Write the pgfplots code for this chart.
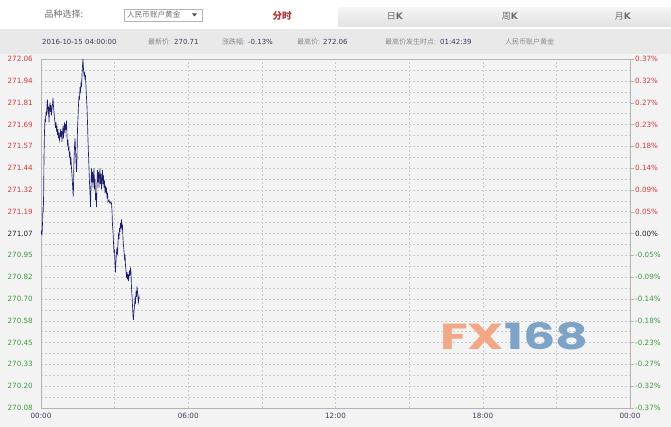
\documentclass[border=0pt]{standalone}
\usepackage{pgfplots}
\pgfplotsset{compat=1.18}
\usepackage{fontspec}
\setmainfont{DejaVu Sans}
\newfontfamily\cjk{Noto Sans CJK SC}
\newfontfamily\wm{Poppins}

\definecolor{bgc}{HTML}{F3F3F3}
\definecolor{barc}{HTML}{E9E9E9}
\definecolor{up}{HTML}{D23A3A}
\definecolor{dn}{HTML}{3C9A3C}
\definecolor{mid}{HTML}{222222}
\definecolor{linec}{HTML}{1E1E6E}
\definecolor{gridc}{HTML}{CACACA}
\definecolor{framec}{HTML}{B4B4B4}
\definecolor{infoc}{HTML}{3A3A5A}
\definecolor{cnc}{HTML}{8A8A8A}
\definecolor{fxo}{HTML}{F2A886}
\definecolor{fxb}{HTML}{7DA4C6}

\begin{document}
\begin{tikzpicture}
\useasboundingbox (0pt,0pt) rectangle (671pt,427pt);
\fill[white] (0pt,0pt) rectangle (671pt,427pt);
\fill[bgc] (0pt,0pt) rectangle (671pt,373pt);
\fill[barc] (0pt,373pt) rectangle (671pt,398pt);
% tabs
\shade[top color=white!96!black, bottom color=white!88!black] (338pt,400pt) rectangle (671pt,419pt);

% header text
\node[text=cnc!80!black, font=\cjk\fontsize{9}{10}\selectfont] at (64pt,413pt) {品种选择:};
\draw[framec, fill=white] (124pt,406pt) rectangle (202pt,418pt);
\node[anchor=west, inner sep=0pt, text=cnc!80!black, font=\cjk\fontsize{7.6}{8}\selectfont] at (127pt,412pt) {人民币账户黄金};
\fill[black!70] (192pt,413.5pt) -- (197pt,413.5pt) -- (194.5pt,410.5pt) -- cycle;
\node[text=up!85!black, font=\cjk\bfseries\fontsize{9.5}{10}\selectfont] at (282pt,411pt) {分时};
\node[text=cnc!80!black, font=\fontsize{9}{10}\selectfont] at (395pt,411pt) {{\cjk 日}\textbf{K}};
\node[text=cnc!80!black, font=\fontsize{9}{10}\selectfont] at (510pt,411pt) {{\cjk 周}\textbf{K}};
\node[text=cnc!80!black, font=\fontsize{9}{10}\selectfont] at (623pt,411pt) {{\cjk 月}\textbf{K}};

% info bar
\begin{scope}[every node/.style={anchor=west, inner sep=0pt, font=\fontsize{7}{8}\selectfont}]
\node[text=infoc] at (42pt,385pt) {2016-10-15 04:00:00};
\node at (148pt,385pt) {\textcolor{cnc}{\cjk 最新价:} \textcolor{infoc}{270.71}};
\node at (222pt,385pt) {\textcolor{cnc}{\cjk 涨跌幅:} \textcolor{infoc}{-0.13\%}};
\node at (297pt,385pt) {\textcolor{cnc}{\cjk 最高价:} \textcolor{infoc}{272.06}};
\node at (385pt,385pt) {\textcolor{cnc}{\cjk 最高价发生时点:}\hspace{4pt}\textcolor{infoc}{01:42:39}};
\node at (505pt,385pt) {\textcolor{cnc}{\cjk 人民币账户黄金}};
\end{scope}

% main axis
\begin{axis}[
    at={(41pt,19pt)}, anchor=south west,
    width=589pt, height=349pt, scale only axis,
    xmin=0, xmax=24, ymin=270.08, ymax=272.06,
    axis background/.style={fill=bgc},
    axis line style={framec},
    xtick={0,6,12,18,24},
    xticklabels={00:00,06:00,12:00,18:00,00:00},
    minor xtick={3,9,15,21},
    ytick={272.06,271.93625,271.8125,271.68875,271.565,271.44125,271.3175,271.19375,271.07,270.94625,270.8225,270.69875,270.575,270.45125,270.3275,270.20375,270.08},
    yticklabels={\textcolor{up}{272.06},\textcolor{up}{271.94},\textcolor{up}{271.81},\textcolor{up}{271.69},\textcolor{up}{271.57},\textcolor{up}{271.44},\textcolor{up}{271.32},\textcolor{up}{271.19},\textcolor{mid}{271.07},\textcolor{dn}{270.95},\textcolor{dn}{270.82},\textcolor{dn}{270.70},\textcolor{dn}{270.58},\textcolor{dn}{270.45},\textcolor{dn}{270.33},\textcolor{dn}{270.20},\textcolor{dn}{270.08}},
    minor y tick num=1,
    grid=both,
    major grid style={gridc, dash pattern=on 2pt off 2pt, line width=0.4pt},
    minor grid style={gridc, dash pattern=on 2pt off 2pt, line width=0.4pt},
    major tick length=0pt, minor tick length=0pt,
    tick label style={font=\fontsize{7.2}{8}\selectfont, inner sep=0pt},
    yticklabel style={xshift=-8pt},
    xticklabel style={yshift=-5pt, text=infoc},
    clip=false,
]
\addplot[linec, line width=0.65pt] coordinates {
(0.000,271.07) (0.020,271.08) (0.041,271.06) (0.061,271.12) (0.081,271.22)
(0.094,271.19) (0.110,271.32) (0.122,271.50) (0.143,271.65) (0.163,271.72)
(0.183,271.70) (0.204,271.76) (0.224,271.74) (0.245,271.80) (0.265,271.83)
(0.285,271.75) (0.306,271.79) (0.326,271.70) (0.346,271.78) (0.367,271.81)
(0.387,271.76) (0.408,271.80) (0.428,271.74) (0.448,271.78) (0.469,271.80)
(0.489,271.84) (0.509,271.79) (0.530,271.76) (0.550,271.72) (0.571,271.70)
(0.591,271.67) (0.611,271.70) (0.632,271.66) (0.652,271.68) (0.672,271.63)
(0.693,271.66) (0.713,271.61) (0.733,271.64) (0.754,271.60) (0.774,271.62)
(0.795,271.66) (0.815,271.62) (0.835,271.65) (0.856,271.59) (0.876,271.64)
(0.896,271.68) (0.917,271.61) (0.937,271.66) (0.957,271.70) (0.978,271.64)
(0.998,271.69) (1.019,271.66) (1.039,271.71) (1.060,271.62) (1.080,271.58)
(1.100,271.60) (1.121,271.54) (1.141,271.56) (1.161,271.50) (1.182,271.52)
(1.202,271.47) (1.223,271.49) (1.243,271.44) (1.263,271.40) (1.284,271.35)
(1.304,271.30) (1.316,271.28) (1.333,271.40) (1.345,271.49) (1.365,271.56)
(1.386,271.61) (1.406,271.55) (1.426,271.48) (1.447,271.42) (1.467,271.50)
(1.487,271.66) (1.508,271.73) (1.528,271.80) (1.549,271.85) (1.569,271.83)
(1.589,271.90) (1.610,271.88) (1.630,271.92) (1.650,271.91) (1.671,271.97)
(1.691,272.02) (1.711,272.06) (1.732,272.00) (1.752,271.97) (1.772,271.98)
(1.793,271.95) (1.813,271.96) (1.834,271.90) (1.854,271.84) (1.874,271.79)
(1.895,271.70) (1.915,271.60) (1.935,271.52) (1.956,271.44) (1.976,271.36)
(1.997,271.30) (2.017,271.22) (2.038,271.33) (2.058,271.44) (2.078,271.36)
(2.099,271.42) (2.119,271.33) (2.139,271.40) (2.160,271.44) (2.180,271.32)
(2.201,271.38) (2.221,271.26) (2.241,271.30) (2.262,271.22) (2.282,271.35)
(2.302,271.43) (2.323,271.36) (2.343,271.42) (2.364,271.33) (2.384,271.40)
(2.404,271.44) (2.425,271.35) (2.445,271.41) (2.465,271.32) (2.486,271.38)
(2.506,271.43) (2.527,271.35) (2.547,271.40) (2.567,271.33) (2.588,271.37)
(2.608,271.30) (2.629,271.34) (2.649,271.31) (2.669,271.33) (2.690,271.27)
(2.710,271.30) (2.730,271.25) (2.771,271.26) (2.812,271.24) (2.852,271.25)
(2.873,271.24) (2.893,271.20) (2.913,271.12) (2.934,271.08) (2.954,271.02)
(2.975,270.96) (2.995,270.98) (3.015,270.90) (3.036,270.85) (3.056,270.92)
(3.077,270.96) (3.097,270.99) (3.117,270.95) (3.138,271.02) (3.158,271.06)
(3.178,271.04) (3.199,271.10) (3.219,271.08) (3.240,271.13) (3.260,271.10)
(3.280,271.15) (3.301,271.09) (3.321,271.12) (3.341,271.04) (3.362,271.00)
(3.382,270.97) (3.403,270.93) (3.423,270.95) (3.443,270.89) (3.464,270.86)
(3.484,270.82) (3.505,270.85) (3.525,270.81) (3.545,270.84) (3.566,270.80)
(3.586,270.83) (3.606,270.86) (3.627,270.83) (3.647,270.87) (3.668,270.85)
(3.688,270.76) (3.708,270.72) (3.729,270.66) (3.749,270.60) (3.769,270.58)
(3.790,270.63) (3.810,270.66) (3.830,270.70) (3.851,270.68) (3.871,270.73)
(3.892,270.71) (3.912,270.77) (3.932,270.74) (3.953,270.70) (3.973,270.68)
(3.993,270.71) (4.005,270.70)
};
\end{axis}

% right percentage axis
\begin{axis}[
    at={(41pt,19pt)}, anchor=south west,
    width=589pt, height=349pt, scale only axis,
    xmin=0, xmax=24, ymin=270.08, ymax=272.06,
    axis x line=none, axis y line*=right,
    axis line style={framec},
    ytick={272.06,271.93625,271.8125,271.68875,271.565,271.44125,271.3175,271.19375,271.07,270.94625,270.8225,270.69875,270.575,270.45125,270.3275,270.20375,270.08},
    yticklabels={\textcolor{up}{0.37\%},\textcolor{up}{0.32\%},\textcolor{up}{0.27\%},\textcolor{up}{0.23\%},\textcolor{up}{0.18\%},\textcolor{up}{0.14\%},\textcolor{up}{0.09\%},\textcolor{up}{0.05\%},\textcolor{mid}{0.00\%},\textcolor{dn}{-0.05\%},\textcolor{dn}{-0.09\%},\textcolor{dn}{-0.14\%},\textcolor{dn}{-0.18\%},\textcolor{dn}{-0.23\%},\textcolor{dn}{-0.27\%},\textcolor{dn}{-0.32\%},\textcolor{dn}{-0.37\%}},
    tick align=outside, major tick length=4pt,
    ytick style={framec},
    tick label style={font=\fontsize{7.2}{8}\selectfont, inner sep=0pt},
    yticklabel style={xshift=1pt},
]
\end{axis}

% watermark
\node[inner sep=0pt, anchor=south west] at (440pt,77pt) {\resizebox{148pt}{27pt}{\wm\bfseries\textcolor{fxo}{FX}\textcolor{fxb}{168}}};
\end{tikzpicture}
\end{document}
